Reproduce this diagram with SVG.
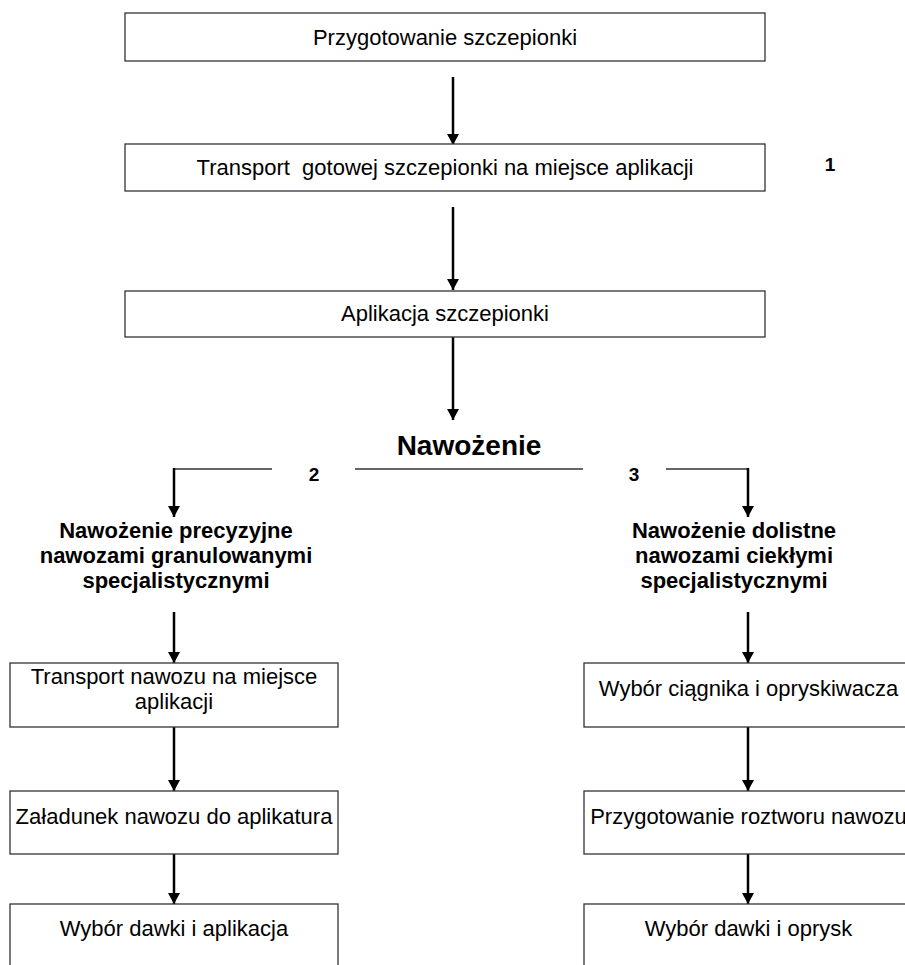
<svg xmlns="http://www.w3.org/2000/svg" width="905" height="965" viewBox="0 0 905 965">
<defs>
<marker id="ah" viewBox="0 0 12 13" refX="12" refY="6.5" markerWidth="13" markerHeight="12" markerUnits="userSpaceOnUse" orient="auto">
<path d="M0,0 L12,6.5 L0,13 z" fill="#000"/>
</marker>
<style>
.box{fill:#fff;stroke:#333;stroke-width:1.3}
.t{font-family:"Liberation Sans",Arial,sans-serif;font-size:22px;fill:#000;text-anchor:middle}
.b{font-family:"Liberation Sans",Arial,sans-serif;font-size:22px;font-weight:bold;fill:#000;text-anchor:middle}
.num{font-family:"Liberation Sans",Arial,sans-serif;font-size:19px;font-weight:bold;fill:#000;text-anchor:middle}
.arr{stroke:#000;stroke-width:2.5;fill:none;marker-end:url(#ah)}
.hl{stroke:#333;stroke-width:1.4;fill:none}
</style>
</defs>
<rect width="905" height="965" fill="#fff"/>
<g id="connectors">
<line class="arr" x1="453" y1="77" x2="453" y2="145"/>
<line class="arr" x1="453" y1="207" x2="453" y2="290"/>
<line class="arr" x1="453" y1="337" x2="453" y2="420"/>
<line class="hl" x1="173" y1="469" x2="272" y2="469"/>
<line class="hl" x1="355" y1="469" x2="583" y2="469"/>
<line class="hl" x1="666" y1="469" x2="748" y2="469"/>
<line class="arr" x1="174" y1="468" x2="174" y2="517"/>
<line class="arr" x1="748" y1="468" x2="748" y2="517"/>
<line class="arr" x1="174" y1="612" x2="174" y2="663"/>
<line class="arr" x1="748" y1="612" x2="748" y2="663"/>
<line class="arr" x1="174" y1="727" x2="174" y2="791"/>
<line class="arr" x1="748" y1="727" x2="748" y2="791"/>
<line class="arr" x1="174" y1="854" x2="174" y2="904"/>
<line class="arr" x1="748" y1="854" x2="748" y2="904"/>
</g>
<g id="n1"><rect class="box" x="125" y="13" width="640" height="48"/><text class="t" x="445" y="45">Przygotowanie szczepionki</text></g>
<g id="n2"><rect class="box" x="125" y="144" width="640" height="47"/><text class="t" x="445" y="175" xml:space="preserve">Transport  gotowej szczepionki na miejsce aplikacji</text></g>
<g id="label1"><text class="num" x="830" y="171">1</text></g>
<g id="n3"><rect class="box" x="125" y="291" width="640" height="46"/><text class="t" x="445" y="321">Aplikacja szczepionki</text></g>
<g id="n4"><text class="b" x="469" y="455" style="font-size:28px">Nawożenie</text></g>
<g id="label2"><text class="num" x="314" y="481">2</text></g>
<g id="label3"><text class="num" x="634" y="481">3</text></g>
<g id="n5"><text class="b" x="176" y="538">Nawożenie precyzyjne</text><text class="b" x="176" y="563">nawozami granulowanymi</text><text class="b" x="176" y="588">specjalistycznymi</text></g>
<g id="n6"><text class="b" x="734" y="538">Nawożenie dolistne</text><text class="b" x="734" y="563">nawozami ciekłymi</text><text class="b" x="734" y="588">specjalistycznymi</text></g>
<g id="n7"><rect class="box" x="10" y="663" width="328" height="64"/><text class="t" x="174" y="684">Transport nawozu na miejsce</text><text class="t" x="174" y="709">aplikacji</text></g>
<g id="n8"><rect class="box" x="584" y="663" width="329" height="64"/><text class="t" x="748.5" y="696">Wybór ciągnika i opryskiwacza</text></g>
<g id="n9"><rect class="box" x="10" y="791" width="328" height="63"/><text class="t" x="174" y="824">Załadunek nawozu do aplikatura</text></g>
<g id="n10"><rect class="box" x="584" y="791" width="329" height="63"/><text class="t" x="748.5" y="824">Przygotowanie roztworu nawozu</text></g>
<g id="n11"><rect class="box" x="10" y="904" width="328" height="70"/><text class="t" x="174" y="936">Wybór dawki i aplikacja</text></g>
<g id="n12"><rect class="box" x="584" y="904" width="329" height="70"/><text class="t" x="748.5" y="936">Wybór dawki i oprysk</text></g>
</svg>
